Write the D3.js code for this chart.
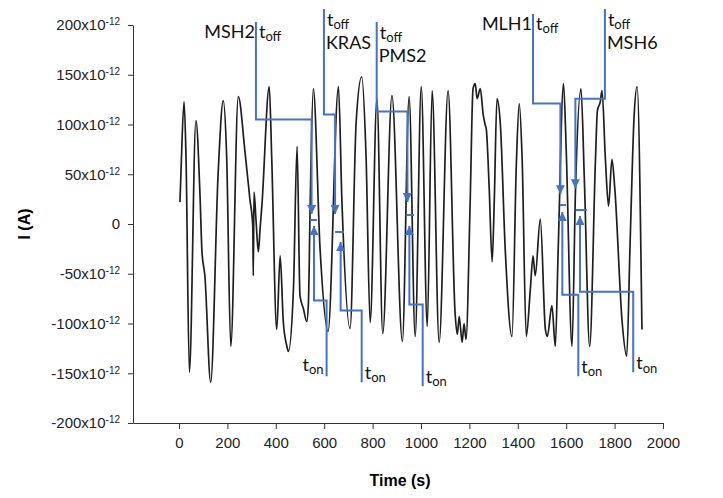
<!DOCTYPE html>
<html>
<head>
<meta charset="utf-8">
<script src="https://cdn.jsdelivr.net/npm/d3@7"></script>
<style>
  body { margin: 0; background: #fff; }
  svg { display: block; }
</style>
</head>
<body>
<svg id="chart" width="723" height="498"></svg>
<script>
// trace: time in s, current in pA (x10^-12 A)
const times = [4, 8, 21, 29, 43, 70, 87, 95, 107, 131, 162, 183, 197, 214, 245, 273, 293, 305, 307, 310,
  318, 328, 335, 343, 373, 383, 404, 418, 431, 445, 452, 473, 488, 500, 514, 528, 535, 542, 555, 583,
  616, 659, 673, 707, 732, 755, 773, 790, 818, 842, 880, 923, 951, 976, 1001, 1026, 1046, 1075, 1112, 1141,
  1150, 1158, 1170, 1178, 1186, 1203, 1215, 1224, 1232, 1245, 1257, 1265, 1270, 1282, 1294, 1303, 1314, 1328, 1348, 1376,
  1394, 1406, 1418, 1435, 1452, 1463, 1472, 1493, 1514, 1522, 1541, 1555, 1567, 1589, 1600, 1624, 1638, 1661, 1675, 1697,
  1721, 1729, 1741, 1748, 1762, 1775, 1789, 1801, 1831, 1850, 1864, 1880, 1893, 1913];
const current = [22, 50, 123, 68, -149, 104, 28, -28, -52, -159, 52, 124, 68, -123, 128, 72, 25, -2, -52, 32,
  5, -28, -5, 20, 138, 68, -106, -32, -98, -122, -128, -65, 78, -72, -85, -98, -78, 18, 136, -25,
  -108, 138, 25, -105, 102, 148, 68, -99, 126, -110, 129, -118, 128, -113, 138, -103, 134, -119, 134, -90,
  -111, -93, -119, -100, -116, 20, 136, 141, 126, 136, 110, 100, 95, 35, -38, 25, 126, 100, -25, -113,
  60, 121, 65, -113, -65, -32, -52, 5, -106, -113, -82, -123, -25, 141, 75, -123, 30, 136, 45, -123,
  65, 114, 123, 134, 65, 18, 65, 35, -98, -133, -20, 105, 138, -106];

const xTicks = [0, 200, 400, 600, 800, 1000, 1200, 1400, 1600, 1800, 2000];
const yTicks = [-200, -150, -100, -50, 0, 50, 100, 150, 200];

// blue t_off / t_on markers, [time, current] corners
const genes = ["MSH2", "KRAS", "PMS2", "MLH1", "MSH6"];
const offPaths = [
  [[318, 203], [318, 105], [548, 105], [548, 10]],
  [[599, 216], [599, 110], [645, 110], [645, 10]],
  [[817, 203], [817, 113], [944, 113], [944, 22]],
  [[1463, 211], [1463, 121], [1576, 121], [1576, 30]],
  [[1760, 216], [1760, 126], [1638, 126], [1638, 36]]
];
const levelMarks = [[541, 570, 4], [645, 682, -8], [942, 971, 9], [1574, 1599, 19], [1640, 1686, 14]];
const onPaths = [
  [[558, -2], [558, -77], [610, -77], [610, -153]],
  [[668, -18], [668, -87], [755, -87], [755, -159]],
  [[952, -2], [952, -81], [1007, -81], [1007, -163]],
  [[1584, 12], [1584, -71], [1650, -71], [1650, -153]],
  [[1657, 8], [1657, -68], [1877, -68], [1877, -149]]
];
const nameSide = ["left", "below", "below", "left", "below"];
const onSide = ["left", "right", "right", "right", "right"];

const svg = d3.select("#chart");
const blue = "#4472c4";
const axisFont = "'Liberation Sans', Arial, sans-serif";
const noteFont = "Lato, 'Liberation Sans', sans-serif";

const x = d3.scaleLinear().domain([-190, 2000]).range([133, 663]);
const y = d3.scaleLinear().domain([-200, 200]).range([423, 25]);

// axes
const gx = svg.append("g")
  .attr("transform", `translate(0,${y(-200)})`)
  .call(d3.axisBottom(x).tickValues(xTicks).tickFormat(d3.format("d"))
    .tickSize(6).tickSizeOuter(0).tickPadding(8));
gx.selectAll("text").attr("font-size", "15px").attr("font-family", axisFont).attr("fill", "#222");

const gy = svg.append("g")
  .attr("transform", `translate(${x(-190)},0)`)
  .call(d3.axisLeft(y).tickValues(yTicks).tickSize(5).tickSizeOuter(0).tickPadding(8));
gy.selectAll(".tick text").each(function(d) {
  const t = d3.select(this).text(null)
    .attr("font-size", "15px").attr("font-family", axisFont).attr("fill", "#222");
  if (d === 0) { t.text("0"); return; }
  t.append("tspan").text(d + "x10");
  t.append("tspan").attr("dy", "-0.5em").attr("font-size", "10px").text("-12");
});
svg.selectAll(".domain, .tick line").attr("stroke", "#333");

svg.append("text")
  .attr("x", 400).attr("y", 486)
  .attr("text-anchor", "middle")
  .attr("font-family", axisFont).attr("font-weight", "bold").attr("font-size", "16px")
  .text("Time (s)");

svg.append("text")
  .attr("transform", "translate(30,224) rotate(-90)")
  .attr("text-anchor", "middle")
  .attr("font-family", axisFont).attr("font-weight", "bold").attr("font-size", "16px")
  .text("I (A)");

// current trace
const pts = times.map((t, i) => [t, current[i]]);
svg.append("path")
  .datum(pts)
  .attr("fill", "none")
  .attr("stroke", "#1e1e1e")
  .attr("stroke-width", 1.7)
  .attr("stroke-linejoin", "round")
  .attr("d", d3.line().x(d => x(d[0])).y(d => y(d[1])).curve(d3.curveMonotoneX));

// arrow head
svg.append("defs").append("marker")
  .attr("id", "arrow")
  .attr("viewBox", "0 0 10 10")
  .attr("refX", 10).attr("refY", 5)
  .attr("markerUnits", "userSpaceOnUse")
  .attr("markerWidth", 9).attr("markerHeight", 9)
  .attr("orient", "auto-start-reverse")
  .append("path").attr("d", "M0,0L10,5L0,10z").attr("fill", blue);

const line = d3.line().x(d => x(d[0])).y(d => y(d[1]));
const note = svg.append("g").attr("font-family", noteFont).attr("fill", "#111");

function tLabel(px, py, sub, anchor) {
  const t = note.append("text").attr("x", px).attr("y", py)
    .attr("text-anchor", anchor).attr("font-size", "18px");
  t.append("tspan").text("t");
  t.append("tspan").attr("dy", "0.25em").attr("font-size", "13px").text(sub);
}

genes.forEach((g, i) => {
  svg.append("path").attr("d", line(offPaths[i]))
    .attr("fill", "none").attr("stroke", blue).attr("stroke-width", 2)
    .attr("marker-end", "url(#arrow)");
  svg.append("path").attr("d", line(onPaths[i]))
    .attr("fill", "none").attr("stroke", blue).attr("stroke-width", 2)
    .attr("marker-start", "url(#arrow)");
  const m = levelMarks[i];
  svg.append("line")
    .attr("x1", x(m[0])).attr("x2", x(m[1]))
    .attr("y1", y(m[2])).attr("y2", y(m[2]))
    .attr("stroke", blue).attr("stroke-width", 2);

  // labels at top of the t_off line
  const top = offPaths[i][0];
  const tx = x(top[0]), ty = y(top[1]);
  if (nameSide[i] === "left") {
    tLabel(tx + 3, ty + 16, "off", "start");
    note.append("text").attr("x", tx - 1).attr("y", ty + 16)
      .attr("text-anchor", "end").attr("font-size", "18px").text(g);
  } else {
    tLabel(tx + 3, ty + 17, "off", "start");
    note.append("text").attr("x", tx + 2).attr("y", ty + 40)
      .attr("font-size", "18px").text(g);
  }

  // t_on label at foot of the t_on line
  const foot = onPaths[i][onPaths[i].length - 1];
  const fx = x(foot[0]), fy = y(foot[1]);
  if (onSide[i] === "left") tLabel(fx - 3, fy - 5, "on", "end");
  else tLabel(fx + 3, fy - 3, "on", "start");
});
</script>
</body>
</html>
